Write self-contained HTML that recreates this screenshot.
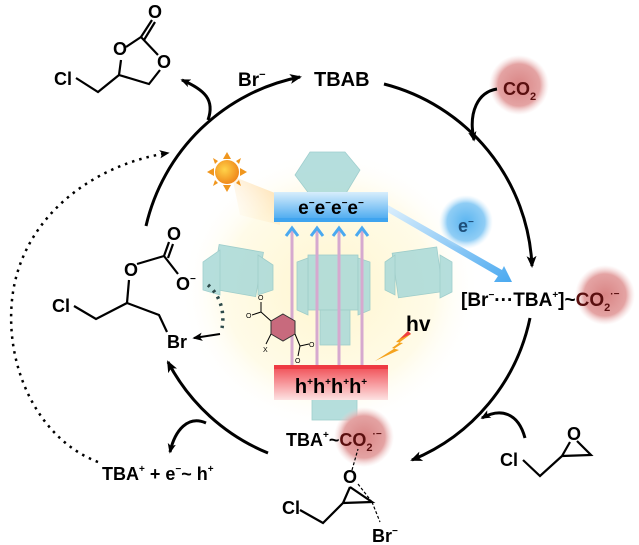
<!DOCTYPE html>
<html><head><meta charset="utf-8"><style>
html,body{margin:0;padding:0;background:#fff;}
svg{display:block;font-family:"Liberation Sans",Arial,sans-serif;}
</style></head><body>
<svg width="639" height="545" viewBox="0 0 639 545" xmlns="http://www.w3.org/2000/svg">
<defs>
<radialGradient id="glow" cx="0.5" cy="0.5" r="0.5">
<stop offset="0" stop-color="#fff6cf"/><stop offset="0.7" stop-color="#fffbe8"/><stop offset="1" stop-color="#fff" stop-opacity="0"/>
</radialGradient>
<radialGradient id="red" cx="0.5" cy="0.5" r="0.5">
<stop offset="0" stop-color="#d98585"/><stop offset="0.7" stop-color="#e4a3a3"/><stop offset="1" stop-color="#f3d3d3" stop-opacity="0"/>
</radialGradient>
<radialGradient id="blue" cx="0.5" cy="0.5" r="0.5">
<stop offset="0" stop-color="#5bb5f0"/><stop offset="0.7" stop-color="#8fcdf5"/><stop offset="1" stop-color="#cbe8fb" stop-opacity="0"/>
</radialGradient>
<radialGradient id="sun" cx="0.4" cy="0.4" r="0.6">
<stop offset="0" stop-color="#ffd34a"/><stop offset="1" stop-color="#f08a1c"/>
</radialGradient>
<linearGradient id="bb" x1="0" y1="0" x2="0" y2="1">
<stop offset="0" stop-color="#d8eefc"/><stop offset="1" stop-color="#3fa4ef"/>
</linearGradient>
<linearGradient id="rb" x1="0" y1="0" x2="0" y2="1">
<stop offset="0" stop-color="#f0474f"/><stop offset="1" stop-color="#fde2e2"/>
</linearGradient>
<linearGradient id="ba" x1="0" y1="0" x2="1" y2="1">
<stop offset="0" stop-color="#e0f1fd"/><stop offset="1" stop-color="#4aa9f0"/>
</linearGradient>
<linearGradient id="beam" x1="1" y1="0" x2="0" y2="1">
<stop offset="0" stop-color="#ffd08a" stop-opacity="0.8"/><stop offset="1" stop-color="#fff3d9" stop-opacity="0"/>
</linearGradient>
<marker id="ah" viewBox="0 0 12 10" refX="10" refY="5" markerWidth="12" markerHeight="10" markerUnits="userSpaceOnUse" orient="auto">
<path d="M0,0 L12,5 L0,10 L3,5 Z" fill="#000"/></marker>
<marker id="ahs" viewBox="0 0 12 10" refX="10" refY="5" markerWidth="10" markerHeight="9" markerUnits="userSpaceOnUse" orient="auto">
<path d="M0,0 L12,5 L0,10 L3,5 Z" fill="#000"/></marker>
</defs>

<!-- glow -->
<ellipse cx="330" cy="290" rx="150" ry="140" fill="url(#glow)"/>
<polygon points="232,176 280,195 280,225 240,215" fill="url(#beam)"/>

<!-- MOF clusters -->
<g fill="#a9d9d8" stroke="#8fc6c6" stroke-width="0.8" opacity="0.85">
<polygon points="310,152 345,152 360,170 345,195 310,195 295,175"/>
<rect x="215" y="248" width="45" height="45" transform="rotate(10 237 270)"/>
<polygon points="203,262 220,250 220,295 203,290"/>
<polygon points="258,255 273,265 273,290 258,295"/>
<rect x="308" y="255" width="50" height="55"/>
<polygon points="297,262 308,258 308,315 297,310"/>
<polygon points="358,258 370,262 370,310 358,315"/>
<rect x="320" y="310" width="30" height="35"/>
<rect x="395" y="250" width="45" height="45" transform="rotate(-8 417 272)"/>
<polygon points="385,262 395,255 395,295 385,290"/>
<polygon points="440,255 452,262 452,292 440,298"/>
<rect x="312" y="395" width="45" height="25"/>
</g>

<!-- blue beam arrow -->
<polygon points="386,204 502,270 504,266 512,282 494,282 498,276 384,210" fill="url(#ba)"/>

<!-- bars -->
<rect x="274" y="192" width="114" height="30" fill="url(#bb)"/>
<rect x="274" y="218" width="114" height="4" fill="#3fa4ef"/>
<rect x="274" y="365" width="114" height="35" fill="url(#rb)"/>
<rect x="274" y="365" width="114" height="4" fill="#ee3a43"/>
<text x="331" y="214" text-anchor="middle" font-size="19" font-weight="bold">e<tspan font-size="10" dy="-8">−</tspan><tspan dy="8">e</tspan><tspan font-size="10" dy="-8">−</tspan><tspan dy="8">e</tspan><tspan font-size="10" dy="-8">−</tspan><tspan dy="8">e</tspan><tspan font-size="10" dy="-8">−</tspan></text>

<!-- vertical arrows -->
<g stroke-width="3">
<line x1="292" y1="365" x2="292" y2="230" stroke="#d6a9cf"/>
<line x1="317" y1="365" x2="317" y2="230" stroke="#d6a9cf"/>
<line x1="339" y1="365" x2="339" y2="230" stroke="#d6a9cf"/>
<line x1="362" y1="365" x2="362" y2="230" stroke="#d6a9cf"/>
</g>
<g fill="none" stroke="#4aa9f0" stroke-width="3">
<path d="M286,236 L292,228 L298,236"/><path d="M311,236 L317,228 L323,236"/>
<path d="M333,236 L339,228 L345,236"/><path d="M356,236 L362,228 L368,236"/>
</g>
<text x="331" y="393" text-anchor="middle" font-size="20" font-weight="bold">h<tspan font-size="10" dy="-8">+</tspan><tspan dy="8">h</tspan><tspan font-size="10" dy="-8">+</tspan><tspan dy="8">h</tspan><tspan font-size="10" dy="-8">+</tspan><tspan dy="8">h</tspan><tspan font-size="10" dy="-8">+</tspan></text>

<!-- sun -->
<g fill="#f0961e">
<polygon points="227,152 223,159 231,159"/><polygon points="227,192 223,185 231,185"/>
<polygon points="207,172 214,168 214,176"/><polygon points="247,172 240,168 240,176"/>
<polygon points="213,158 218,161 215,164" /><polygon points="241,158 236,161 239,164"/>
<polygon points="213,186 218,183 215,180"/><polygon points="241,186 236,183 239,180"/>
</g>
<circle cx="227" cy="172" r="12" fill="url(#sun)"/>

<!-- lightning -->
<polygon points="408,331 396,342 403,343 375,361 399,350 392,348 411,334" fill="#f5a31e"/>
<polygon points="408,331 400,339 411,334" fill="#ee3a43"/>
<text x="406" y="331" font-size="21" font-weight="bold">hv</text>

<!-- linker -->
<g fill="none" stroke="#000" stroke-width="1">
<polygon points="283,314 295,321 295,334 283,341 271,334 271,321" fill="#c86a7d" stroke="#333"/>
<line x1="271" y1="321" x2="261" y2="312"/><line x1="261" y1="312" x2="261" y2="302"/><line x1="261" y1="312" x2="252" y2="315"/>
<line x1="295" y1="334" x2="300" y2="346"/><line x1="300" y1="346" x2="309" y2="344"/><line x1="300" y1="346" x2="298" y2="356"/>
<line x1="271" y1="334" x2="266" y2="344"/>
</g>
<text x="258" y="300" font-size="7">O</text><text x="246" y="318" font-size="7">O</text>
<text x="309" y="347" font-size="7">O</text><text x="295" y="363" font-size="7">O</text>
<text x="263" y="352" font-size="7">X</text>

<!-- colored circles -->
<circle cx="519" cy="85" r="30" fill="url(#red)"/>
<circle cx="605" cy="295" r="30" fill="url(#red)"/>
<circle cx="364" cy="437" r="30" fill="url(#red)"/>
<circle cx="466" cy="222" r="27" fill="url(#blue)"/>

<!-- main cycle arcs -->
<g fill="none" stroke="#000" stroke-width="3">
<path d="M146,226 A197,197 0 0 1 300,77" marker-end="url(#ah)"/>
<path d="M384,84 A197,197 0 0 1 532,266" marker-end="url(#ah)"/>
<path d="M530,318 A197,197 0 0 1 412,460" marker-end="url(#ah)"/>
<path d="M268,453 A197,197 0 0 1 168,362" marker-end="url(#ah)"/>
<path d="M208,120 C215,100 205,90 182,80" marker-end="url(#ahs)"/>
<path d="M497,89 C478,92 468,112 474,140" marker-end="url(#ahs)"/>
<path d="M525,438 C518,412 500,408 482,418" marker-end="url(#ahs)"/>
<path d="M206,423 C188,415 175,430 170,452" marker-end="url(#ahs)"/>
</g>
<path d="M98,462 C40,440 5,370 12,300 C20,220 90,165 168,153" fill="none" stroke="#000" stroke-width="2.5" stroke-dasharray="2.5,5" marker-end="url(#ahs)"/>
<path d="M208,285 C220,295 225,312 222,328" fill="none" stroke="#2d4a4a" stroke-width="3.5" stroke-dasharray="2.5,5"/>
<path d="M220,334 L194,338" stroke="#000" stroke-width="2" marker-end="url(#ahs)"/>

<!-- labels -->
<text x="238" y="86" font-size="19" font-weight="bold">Br<tspan font-size="11" dy="-8">−</tspan></text>
<text x="314" y="86" font-size="20" font-weight="bold">TBAB</text>
<text x="503" y="95" font-size="18" font-weight="bold" fill="#5a0f0f">CO<tspan font-size="11" dy="5">2</tspan></text>
<text x="458" y="232" font-size="18" font-weight="bold" fill="#1e4f7a">e<tspan font-size="10" dy="-7">−</tspan></text>
<text x="461" y="306" font-size="19" font-weight="bold">[Br<tspan font-size="10" dy="-8">−</tspan><tspan dy="8">···TBA</tspan><tspan font-size="10" dy="-8">+</tspan><tspan dy="8">]~</tspan><tspan fill="#5a0f0f">CO<tspan font-size="11" dy="5">2</tspan><tspan font-size="10" dy="-14">·−</tspan></tspan></text>
<text x="286" y="446" font-size="18" font-weight="bold">TBA<tspan font-size="10" dy="-8">+</tspan><tspan dy="8">~</tspan><tspan fill="#5a0f0f">CO<tspan font-size="11" dy="5">2</tspan><tspan font-size="10" dy="-14">·−</tspan></tspan></text>
<text x="102" y="480" font-size="18" font-weight="bold">TBA<tspan font-size="10" dy="-8">+</tspan><tspan dy="8"> + e</tspan><tspan font-size="10" dy="-8">−</tspan><tspan dy="8">~ h</tspan><tspan font-size="10" dy="-8">+</tspan></text>

<!-- molecules -->
<g font-size="18" font-weight="bold">
<text x="54" y="85">Cl</text>
<text x="113" y="55">O</text><text x="157" y="68">O</text><text x="148" y="18">O</text>
<text x="52" y="312">Cl</text><text x="124" y="276">O</text><text x="167" y="240">O</text><text x="176" y="290">O<tspan font-size="10" dy="-8">−</tspan></text>
<text x="167" y="348">Br</text>
<text x="282" y="514">Cl</text><text x="343" y="483">O</text><text x="372" y="542">Br<tspan font-size="10" dy="-8">−</tspan></text>
<text x="500" y="466">Cl</text><text x="567" y="440">O</text>
</g>
<g fill="none" stroke="#000" stroke-width="2.2">
<path d="M76,78 L98,92 L119,75 L121,60 M126,47 L141,37 L158,55 M160,70 L149,84 L119,75"/>
<path d="M141,37 L152,20 M144,40 L155,22"/>
<path d="M74,306 L96,319 L127,303 L159,315 L167,332"/>
<path d="M127,303 L129,280 M137,264 L164,256 M164,256 L169,242 M168,258 L173,244 M164,256 L178,274"/>
<path d="M300,510 L323,523 L343,503 L372,502 L350,487 M343,503 L350,487"/>
<path d="M523,460 L540,476 L562,456 L591,455 L577,441 M562,456 L570,442"/>
</g>
<g fill="none" stroke="#000" stroke-width="1.2" stroke-dasharray="3,2">
<path d="M352,470 L358,449"/><path d="M372,502 L380,522"/><path d="M358,484 L372,502"/>
</g>
</svg>
</body></html>
